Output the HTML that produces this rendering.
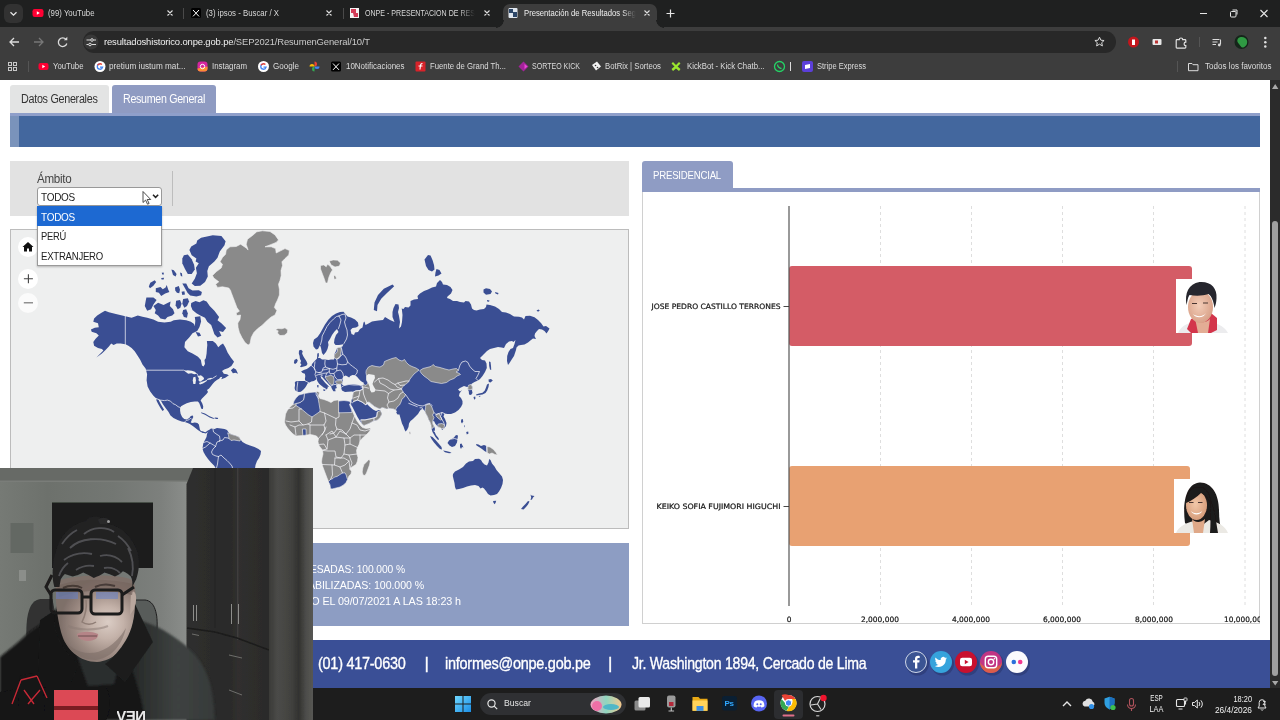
<!DOCTYPE html>
<html lang="es">
<head>
<meta charset="utf-8">
<title>Presentación de Resultados Segunda Elección Presidencial 2021</title>
<style>
*{box-sizing:border-box;margin:0;padding:0}
html,body{width:1280px;height:720px;overflow:hidden;background:#fff;font-family:"Liberation Sans",sans-serif;}
body{position:relative}
.a{position:absolute}
.t{position:absolute;white-space:nowrap;line-height:1}
/* chrome */
#tabstrip{left:0;top:0;width:1280px;height:27px;background:#1f2020}
#toolbar{left:0;top:26.5px;width:1280px;height:53.5px;background:#3d3d3d}
#omni{left:82.500px;top:31px;width:1033.500px;height:22px;border-radius:11px;background:#282828}
#acttab{left:503px;top:4px;width:154px;height:24px;background:#3d3d3d;border-radius:7px 7px 0 0}
.tabt{color:#d8d8d8;font-size:9px;top:9px}
.bm{color:#dcdcdc;font-size:8.5px;top:62px}
.x{color:#ddd;font-size:10px;top:8px}
/* page */
#tab1{left:10px;top:85px;width:98.5px;height:27.5px;background:#e3e4e4;border-radius:3px 3px 0 0}
#tab2{left:112px;top:85px;width:104px;height:28px;background:#8f9bc2;border-radius:3px 3px 0 0}
#bar1{left:10px;top:112.5px;width:1250px;height:3.5px;background:#8f9fca}
#bar2{left:10px;top:116px;width:1250px;height:31px;background:#43679e}
#bar3{left:10px;top:116px;width:9px;height:31px;background:#7a93bb}
#filt{left:10px;top:161px;width:618.5px;height:54.5px;background:#e2e2e2}
#mapbox{left:10px;top:229px;width:619px;height:300px;background:#eeefef;border:1px solid #bcbcbc}
#sel{left:37px;top:186.5px;width:125px;height:19.5px;background:#fff;border:1px solid #999;border-radius:3px}
#dd{left:37px;top:206px;width:125px;height:59.7px;background:#fff;border:1px solid #9a9a9a;box-shadow:0 1px 2px rgba(0,0,0,.25)}
#ddh{left:37px;top:206px;width:125px;height:20px;background:#1d69d2}
#info{left:10px;top:543px;width:618.5px;height:83px;background:#8d9dc3}
#ptab{left:642px;top:160.5px;width:91px;height:29.5px;background:#8f9cc4;border-radius:3px 3px 0 0}
#pline{left:642px;top:188px;width:618px;height:4px;background:#8f9cc4}
#chart{left:642px;top:190px;width:618px;height:434px;background:#fff;border:1px solid #d0d0d0;border-top:none}
#footer{left:0;top:640px;width:1270.5px;height:48px;background:#3a4f96}
#task{left:0;top:688px;width:1280px;height:32px;background:#1d1d1d}
#sbar{left:1270.3px;top:80px;width:9.7px;height:608px;background:#2b2b2b}
#sthumb{left:1272px;top:220.5px;width:6.2px;height:455px;background:#9f9f9f;border-radius:3.1px}
.ft{color:#fff;font-size:17px;top:655px;letter-spacing:-0.3px;-webkit-text-stroke:.35px #fff}
.cl{font-family:"DejaVu Sans","Liberation Sans",sans-serif;font-size:7.4px;color:#111;-webkit-text-stroke:.22px #222;margin-top:.6px}
</style>
</head>
<body>
<!-- browser chrome -->
<div class="a" id="tabstrip"></div>
<div class="a" id="toolbar"></div>
<div class="a" id="acttab"></div>
<div class="a" style="left:496px;top:20px;width:8px;height:8px;background:radial-gradient(circle at 0 0,#1f2020 7.5px,#3d3d3d 8px)"></div>
<div class="a" style="left:656px;top:20px;width:8px;height:8px;background:radial-gradient(circle at 100% 0,#1f2020 7.5px,#3d3d3d 8px)"></div>
<div class="a" style="left:4px;top:4px;width:19px;height:19px;border-radius:6px;background:#323232"></div>
<svg class="a" style="left:0;top:0" width="1280" height="80" viewBox="0 0 1280 80" fill="none">
 <path d="M10.5 12.2l3 3 3-3" stroke="#e6e6e6" stroke-width="1.3"/>
 <!-- yt tab icon -->
 <rect x="32.5" y="9" width="11" height="8" rx="2.2" fill="#f03"/><path d="M36.8 11.2v3.6l3-1.8z" fill="#fff"/>
 <!-- close x's -->
 <g stroke="#dedede" stroke-width="1.1"><path d="M167.5 10.5l5 5m0-5l-5 5M326.5 10.5l5 5m0-5l-5 5M484.5 10.5l5 5m0-5l-5 5M644.5 10.5l5 5m0-5l-5 5"/></g>
 <path d="M183.5 8v11M343.5 8v11" stroke="#4a4a4a" stroke-width="1"/>
 <!-- X icon -->
 <rect x="191" y="8" width="10" height="10" rx="1.5" fill="#000"/><path d="M193 10l6 6.4M199 10l-6 6.4" stroke="#fff" stroke-width="1"/>
 <!-- onpe icon -->
 <rect x="350" y="8" width="9" height="10" fill="#f4f4f4"/><path d="M351 9h5v4h-5zM353 13h5v4h-4z" fill="#d23c57"/>
 <!-- active icon -->
 <rect x="508.500" y="8" width="9" height="10" rx="1" fill="#dfe6ee"/><path d="M509 9h4v4h-4zM513 12h4v5h-4z" fill="#2c4668"/>
 <path d="M670.500 9.500v8M666.500 13.500h8" stroke="#e6e6e6" stroke-width="1.2"/>
 <!-- window controls -->
 <path d="M1200 13.500h7" stroke="#e6e6e6" stroke-width="1"/>
 <rect x="1230.500" y="11.500" width="5.500" height="5.500" rx="1" stroke="#e6e6e6" stroke-width="1"/><path d="M1232.500 10h4.500v4.500" stroke="#e6e6e6" stroke-width="1"/>
 <path d="M1260.500 10l7 7m0-7l-7 7" stroke="#e6e6e6" stroke-width="1.1"/>
 <!-- nav -->
 <path d="M19 42h-9m4-4l-4 4 4 4" stroke="#dcdcdc" stroke-width="1.3"/>
 <path d="M34 42h9m-4-4l4 4-4 4" stroke="#777" stroke-width="1.3"/>
 <path d="M66 39.500a4.300 4.300 0 1 0 .8 4" stroke="#dcdcdc" stroke-width="1.3"/><path d="M67.300 36.800v3.400h-3.400z" fill="#dcdcdc"/>
</svg>
<div class="a" id="omni"></div>
<svg class="a" style="left:0;top:0" width="1280" height="80" viewBox="0 0 1280 80" fill="none">
 <circle cx="91" cy="42" r="7.500" fill="#383838"/>
 <path d="M86.500 40h4m3 0h2.500M86.500 44.500h2m3 0h4.500" stroke="#dcdcdc" stroke-width="1.100"/><circle cx="92" cy="40" r="1.300" stroke="#dcdcdc" stroke-width="1"/><circle cx="90" cy="44.500" r="1.300" stroke="#dcdcdc" stroke-width="1"/>
 <path d="M1099.500 37.200l1.400 3 3.200.3-2.400 2.200.7 3.200-2.900-1.700-2.900 1.700.7-3.200-2.400-2.200 3.200-.3z" stroke="#dcdcdc" stroke-width="1"/>
 <circle cx="1133.500" cy="42" r="5.500" fill="#c4161c"/><path d="M1132 39.500h3v5.500h-3z" fill="#fff"/>
 <rect x="1152.500" y="39" width="9" height="6" rx="1" fill="#e8e8e8"/><rect x="1155" y="40.500" width="3" height="3" fill="#b33"/>
 <path d="M1177 39.700h2.300a1.700 1.700 0 1 1 3.400 0h2.300q.8 0 .8.800v1.700a1.700 1.700 0 1 0 0 3.400v1.700q0 .8-.8.800h-8q-.8 0-.8-.800v-6.800q0-.8.800-.8z" stroke="#e2e2e2" stroke-width="1.200"/>
 <path d="M1199.500 37v10" stroke="#555" stroke-width="1"/>
 <path d="M1212.500 39.500h7M1212.500 42h5M1212.500 44.500h3.500" stroke="#dcdcdc" stroke-width="1.100"/><path d="M1220.500 39.500v5" stroke="#dcdcdc" stroke-width="1.100"/><circle cx="1219.300" cy="45" r="1.400" fill="#dcdcdc"/>
 <circle cx="1241.500" cy="42" r="7" fill="#15251a"/><path d="M1238 38.500c3-2.500 8-1.500 9 2 .8 3-1 6.500-4 7-2 .3-2.500-2-4-3.500s-2.500-3.500-1-5.500z" fill="#2f9a43"/>
 <circle cx="1265.300" cy="38" r="1.250" fill="#e2e2e2"/><circle cx="1265.300" cy="42.300" r="1.250" fill="#e2e2e2"/><circle cx="1265.300" cy="46.600" r="1.250" fill="#e2e2e2"/>
 <!-- bookmarks icons -->
 <g stroke="#c8c8c8" stroke-width="1"><rect x="8.500" y="62.500" width="3" height="3"/><rect x="13.500" y="62.500" width="3" height="3"/><rect x="8.500" y="67.500" width="3" height="3"/><rect x="13.500" y="67.500" width="3" height="3"/></g>
 <path d="M28.500 61v11M1177.500 61v11" stroke="#555" stroke-width="1"/>
 <rect x="38.500" y="63" width="10" height="7" rx="2" fill="#f03"/><path d="M42.300 64.800v3.400l2.900-1.700z" fill="#fff"/>
 <circle cx="100" cy="66.500" r="5.500" fill="#fff"/><path d="M100 63.800a2.700 2.700 0 1 0 2.600 3.400h-2.600" stroke="#4285f4" stroke-width="1.300"/><path d="M97.600 65.300a2.700 2.700 0 0 1 4.300-.8" stroke="#ea4335" stroke-width="1.300"/>
 <rect x="197.500" y="61.500" width="10" height="10" rx="3" fill="#d6249f"/><path d="M197.500 68.500v0a3 3 0 0 0 3 3h4a3 3 0 0 0 3-3v-2z" fill="#fd8d32"/><circle cx="202.500" cy="66.500" r="2.200" stroke="#fff" stroke-width="1"/>
 <circle cx="263.500" cy="66.500" r="5.500" fill="#fff"/><path d="M263.500 63.800a2.700 2.700 0 1 0 2.600 3.400h-2.600" stroke="#4285f4" stroke-width="1.300"/><path d="M261.100 65.300a2.700 2.700 0 0 1 4.300-.8" stroke="#ea4335" stroke-width="1.300"/>
 <path d="M314.500 61.500a2.500 2.500 0 0 1 0 5z" fill="#ea4335"/><path d="M319.500 66.500a2.500 2.500 0 0 1-5 0z" fill="#4285f4"/><path d="M314.500 71.500a2.500 2.500 0 0 1 0-5z" fill="#34a853"/><path d="M309.500 66.500a2.500 2.500 0 0 1 5 0z" fill="#fbbc04"/>
 <rect x="331" y="61.500" width="10" height="10" rx="1.500" fill="#000"/><path d="M333 63.500l6 6.400M339 63.500l-6 6.400" stroke="#fff" stroke-width="1"/>
 <rect x="415.500" y="61.500" width="10" height="10" rx="1" fill="#d8232a"/><path d="M422.500 63.500c-2 0-2 1-2.500 6M418.500 66h4" stroke="#fff" stroke-width="1.100"/>
 <path d="M523.500 61.500l5 5-5 5-5-5z" fill="#a3239a"/><path d="M524.500 64l3 2.500-3 2.500z" fill="#e94bd6"/>
 <path d="M592 65l5-3.500 4 5-5 4z" fill="#f2f2f2"/><circle cx="595.500" cy="65.500" r=".8" fill="#333"/><circle cx="597.500" cy="67.500" r=".8" fill="#333"/>
 <path d="M673 62l3 3 3-3 1.500 1.500-3 3 3 2.500-1.500 2-3-2.500-3 2.500-1.500-2 3-2.500-3-3z" fill="#9ae62e"/>
 <circle cx="779.500" cy="66.500" r="5" stroke="#25d366" stroke-width="1.300"/><path d="M777.500 64.500c0 2 2 4 4 4" stroke="#25d366" stroke-width="1.300"/>
 <path d="M790.500 62v9" stroke="#dcdcdc" stroke-width="1"/>
 <rect x="802" y="61" width="11" height="11" rx="2" fill="#5b3fd9"/><path d="M805 65l5-1v4l-5 1z" fill="#fff"/>
 <path d="M1188.500 63.500h3.500l1 1.200h5v6h-9.500z" stroke="#dcdcdc" stroke-width="1"/>
</svg>
<div class="t tabt" style="transform:scaleX(0.8656);transform-origin:0 0;left:47.500px">(99) YouTube</div>
<div class="t tabt" style="transform:scaleX(0.8687);transform-origin:0 0;left:206px">(3) ipsos - Buscar / X</div>
<div class="t tabt" style="transform:scaleX(0.7865);transform-origin:0 0;left:365px;-webkit-mask-image:linear-gradient(90deg,#000 85%,transparent)">ONPE - PRESENTACIÓN DE RES</div>
<div class="t tabt" style="transform:scaleX(0.8544);transform-origin:0 0;left:523.500px;color:#f0f0f0;-webkit-mask-image:linear-gradient(90deg,#000 88%,transparent)">Presentación de Resultados Seg</div>
<div class="t" style="transform:scaleX(0.9638);transform-origin:0 0;left:104px;top:37px;font-size:9.800px;color:#f0f0f0;letter-spacing:-.15px">resultadoshistorico.onpe.gob.pe<span style="color:#c9c9c9">/SEP2021/ResumenGeneral/10/T</span></div>
<div class="t bm" style="transform:scaleX(0.9130);transform-origin:0 0;left:53px">YouTube</div>
<div class="t bm" style="transform:scaleX(0.9640);transform-origin:0 0;left:109px">pretium iustum mat...</div>
<div class="t bm" style="transform:scaleX(0.9260);transform-origin:0 0;left:212px">Instagram</div>
<div class="t bm" style="transform:scaleX(0.9481);transform-origin:0 0;left:272.500px">Google</div>
<div class="t bm" style="transform:scaleX(0.9379);transform-origin:0 0;left:345.500px">10Notificaciones</div>
<div class="t bm" style="transform:scaleX(0.9103);transform-origin:0 0;left:429.500px">Fuente de Grand Th...</div>
<div class="t bm" style="transform:scaleX(0.8283);transform-origin:0 0;left:532px">SORTEO KICK</div>
<div class="t bm" style="transform:scaleX(0.9141);transform-origin:0 0;left:605px">BotRix | Sorteos</div>
<div class="t bm" style="transform:scaleX(0.9165);transform-origin:0 0;left:686.500px">KickBot - Kick Chatb...</div>
<div class="t bm" style="transform:scaleX(0.8864);transform-origin:0 0;left:816.500px">Stripe Express</div>
<div class="t bm" style="transform:scaleX(0.9445);transform-origin:0 0;left:1204.500px">Todos los favoritos</div>
<!-- page -->
<div class="a" id="tab1"></div><div class="a" id="tab2"></div>
<div class="a" id="bar1"></div><div class="a" id="bar2"></div><div class="a" id="bar3"></div>
<div class="t" style="transform:scaleX(0.8790);transform-origin:0 0;left:21px;top:92.500px;font-size:12.300px;color:#333;letter-spacing:-.35px">Datos Generales</div>
<div class="t" style="transform:scaleX(0.8673);transform-origin:0 0;left:122.500px;top:92.500px;font-size:12.300px;color:#fff;letter-spacing:-.35px">Resumen General</div>
<div class="a" id="filt"></div>
<div class="a" style="left:172px;top:171px;width:1px;height:35px;background:#bdbdbd"></div>
<div class="t" style="transform:scaleX(0.9456);transform-origin:0 0;left:37px;top:172.500px;font-size:12.300px;color:#444;letter-spacing:-.3px">Ámbito</div>
<div class="a" id="mapbox"></div>
<svg class="a" style="left:11px;top:230px" width="617" height="298" viewBox="11 230 617 298">
<g stroke-linejoin="round" stroke-linecap="round">
<path d="M201.1 237.7L212.8 235.3L221.4 236.1L225.6 241.3L224.5 245.2L219.8 251.4L217.5 257.7L214.4 261.6L208.9 266.3L207.3 271.0L207.8 276.4L205.0 281.9L200.3 285.8L194.8 286.1L191.7 283.5L194.8 278.8L196.9 273.3L195.9 267.8L198.8 263.2L195.6 261.6L196.4 258.5L191.7 255.3L189.4 249.9L191.2 246.4L196.4 243.6L197.2 240.5z" fill="#3a4e93"/>
<path d="M183.9 255.3L187.8 254.6L191.7 259.2L194.1 264.7L194.8 269.4L191.7 274.1L187.8 274.1L185.0 268.9L182.3 263.2L182.3 258.5z" fill="#3a4e93"/>
<path d="M171.4 269.4L173.8 270.2L176.6 274.1L175.6 276.4L173.0 274.9z" fill="#3a4e93"/>
<path d="M180.0 272.5L181.9 273.3L182.3 276.4L180.8 276.1z" fill="#3a4e93"/>
<path d="M161.2 278.0L164.1 277.7L163.6 279.6L161.6 279.6z" fill="#3a4e93"/>
<path d="M161.7 272.8L163.6 272.5L163.9 274.4L162.3 274.4z" fill="#3a4e93"/>
<path d="M182.3 283.5L186.2 283.5L188.6 288.2L192.5 290.5L198.8 290.2L201.9 292.1L201.1 295.2L196.4 296.4L190.2 295.5L187.5 292.8L185.0 288.2z" fill="#3a4e93"/>
<path d="M150.3 282.7L154.7 280.3L156.2 281.9L153.4 285.8L150.0 288.2L148.8 286.6z" fill="#3a4e93"/>
<path d="M155.8 288.2L160.5 287.1L162.8 289.2L165.6 287.4L166.7 285.0L168.3 289.7L169.4 292.1L165.2 293.6L161.2 296.0L158.9 292.8L155.8 292.1z" fill="#3a4e93"/>
<path d="M175.0 287.4L178.8 286.1L180.0 289.7L179.2 293.3L176.9 292.8L175.3 290.5z" fill="#3a4e93"/>
<path d="M181.6 291.8L184.4 291.3L185.0 294.4L182.3 294.9z" fill="#3a4e93"/>
<path d="M146.4 297.5L153.4 297.5L156.6 299.9L153.4 304.6L151.1 309.2L147.2 310.8L144.8 306.1L145.6 301.4z" fill="#3a4e93"/>
<path d="M153.4 306.1L158.1 302.7L163.6 304.9L167.5 303.0L170.6 301.4L169.8 306.1L173.0 309.2L174.5 313.2L172.2 315.5L167.5 317.1L165.2 319.4L160.5 318.6L158.1 315.5L154.7 313.2L155.8 310.0z" fill="#3a4e93"/>
<path d="M176.1 300.7L180.0 299.9L181.6 303.8L180.3 307.7L177.7 309.2L175.6 305.3z" fill="#3a4e93"/>
<path d="M183.1 299.1L187.8 298.3L189.1 301.4L187.0 306.1L184.4 307.7L182.3 303.8z" fill="#3a4e93"/>
<path d="M183.1 310.0L186.2 309.2L187.8 313.2L187.0 317.8L183.9 317.1L182.3 313.2z" fill="#3a4e93"/>
<path d="M191.2 303.0L195.6 301.1L199.5 302.2L203.4 300.2L206.6 301.4L209.7 306.1L214.4 310.8L219.1 317.1L217.5 320.2L221.4 323.3L226.1 328.0L223.0 331.9L219.1 331.1L221.4 335.8L217.5 337.4L214.4 334.2L212.8 329.6L211.2 324.9L207.3 321.8L205.0 317.8L200.3 315.5L196.4 313.2L192.5 310.0L190.9 306.1z" fill="#3a4e93"/>
<path d="M195.6 331.9L199.5 332.7L201.1 335.8L198.0 336.6z" fill="#3a4e93"/>
<path d="M97.2 315.5L101.1 313.1L105.0 310.8L108.9 312.3L115.9 313.9L125.3 316.2L131.6 317.8L137.8 315.5L142.5 316.7L147.2 317.8L153.4 319.4L158.1 321.7L164.4 322.5L170.6 321.7L173.8 320.2L180.0 319.4L186.2 320.2L190.9 321.7L194.1 324.1L194.8 326.2L195.3 320.8L194.8 316.9L200.3 316.2L201.1 321.6L199.5 327.0L197.2 330.9L192.5 333.3L189.4 337.2L185.0 341.9L184.4 347.3L187.8 351.2L192.5 353.6L198.0 356.7L200.9 360.0L201.4 363.0L202.0 365.6L203.5 366.6L205.0 364.1L204.5 360.0L205.8 358.3L206.6 353.6L206.9 348.9L207.3 345.0L206.9 341.1L212.8 341.1L215.9 343.4L218.3 347.3L220.6 345.0L223.0 343.4L225.3 347.3L227.7 352.8L230.8 357.5L233.9 361.4L233.9 362.0L231.4 366.1L228.4 368.1L224.3 369.6L220.2 372.2L217.2 375.2L215.2 376.3L217.2 373.7L220.2 370.7L222.3 371.2L223.8 373.7L226.8 374.2L228.9 375.2L225.3 377.8L221.3 379.3L222.3 376.8L220.2 377.3L219.2 378.8L217.2 379.8L214.6 381.8L212.6 383.9L211.1 385.9L209.1 388.4L207.0 390.0L208.0 392.0L206.5 394.0L204.5 396.1L202.0 398.6L200.6 400.4L202.2 403.2L203.2 406.2L203.0 409.0L201.3 408.8L200.3 405.7L199.2 402.9L197.9 401.6L194.8 401.6L190.8 402.1L186.7 403.2L183.7 404.7L181.1 406.2L180.1 407.7L180.1 410.8L180.6 413.8L182.1 416.9L184.2 418.9L186.7 419.4L189.3 417.9L190.8 415.9L192.8 415.4L193.3 416.9L192.3 418.9L191.3 420.9L190.8 422.5L192.3 423.0L194.8 422.5L197.4 423.0L198.9 424.5L199.4 427.0L199.9 429.6L200.9 431.1L203.0 431.6L205.0 433.0L203.0 433.0L200.9 432.1L197.9 430.1L195.4 428.0L192.8 426.0L189.8 424.0L187.7 423.0L184.7 422.0L181.6 421.4L177.6 419.9L173.5 417.9L170.5 415.4L168.4 411.8L165.4 407.7L162.9 404.2L160.8 400.6L156.3 398.6L153.2 395.5L150.2 391.5L147.6 386.4L146.6 380.3L147.1 374.2L146.1 370.2L145.6 368.4L142.5 364.5L140.2 359.8L137.8 355.9L134.7 351.2L131.6 348.1L128.4 345.8L125.3 344.2L120.6 343.4L116.7 343.4L113.6 345.0L111.2 343.4L108.9 346.6L105.8 349.7L101.9 353.6L96.4 357.5L103.4 350.5L101.9 348.9L98.0 348.1L94.1 345.8L93.3 341.9L95.6 338.8L98.8 335.6L96.4 333.3L91.7 331.7L90.9 329.4L94.8 327.8L98.8 327.2L98.0 323.3L93.3 321.7L94.1 318.6z" fill="#3a4e93"/>
<path d="M156.3 398.6L158.3 399.2L160.0 402.7L162.0 406.2L164.1 409.8L162.5 411.0L160.3 407.7L158.3 404.3L156.5 400.8z" fill="#3a4e93"/>
<path d="M230.9 370.2L233.4 368.1L236.0 369.6L238.0 373.7L235.5 372.7L232.9 373.2z" fill="#3a4e93"/>
<path d="M184.7 370.7L187.7 370.2L191.8 370.7L194.8 371.7L196.9 373.7L194.3 374.2L191.3 373.2L188.2 373.7L186.2 372.2z" fill="#eeefef"/>
<path d="M193.3 377.3L195.4 376.8L195.9 380.3L195.4 383.9L193.3 383.9L192.8 380.3z" fill="#eeefef"/>
<path d="M197.4 376.3L200.9 375.2L203.5 377.3L204.0 379.3L202.0 380.3L199.9 381.8L198.4 380.3L198.9 378.3z" fill="#eeefef"/>
<path d="M198.9 382.9L202.0 381.8L205.0 380.8L207.0 379.8L206.5 381.3L203.0 383.4L199.9 384.4z" fill="#eeefef"/>
<path d="M207.5 378.8L211.1 377.8L212.6 378.3L210.6 379.5L208.0 379.8z" fill="#eeefef"/>
<path d="M200.9 412.3L205.0 413.6L209.1 416.1L213.1 417.7L215.2 418.4L213.1 418.7L209.6 417.4L205.0 414.8L201.4 413.2z" fill="#3a4e93"/>
<path d="M214.6 417.4L217.7 417.7L218.2 418.9L215.7 419.1z" fill="#3a4e93"/>
<path d="M125.3 316.2L125.3 344.2L128.4 347.3L131.6 349.7L134.7 353.6L137.5 357.5" fill="none" stroke="#f2f2f6" stroke-width=".75"/>
<path d="M146.1 370.2L183.7 370.2L186.2 371.4" fill="none" stroke="#f2f2f6" stroke-width=".75"/>
<path d="M196.9 373.7L198.4 376.3" fill="none" stroke="#f2f2f6" stroke-width=".75"/>
<path d="M203.5 378.3L200.9 381.5" fill="none" stroke="#f2f2f6" stroke-width=".75"/>
<path d="M206.8 380.3L207.8 379.3" fill="none" stroke="#f2f2f6" stroke-width=".75"/>
<path d="M212.6 378.3L216.2 376.0" fill="none" stroke="#f2f2f6" stroke-width=".75"/>
<path d="M156.3 398.6L160.3 400.1L164.4 400.6L167.4 400.1L170.5 401.1L173.0 403.7L175.5 404.7L178.1 406.7L180.1 407.5" fill="none" stroke="#f2f2f6" stroke-width=".75"/>
<path d="M184.7 422.0L186.2 420.4L188.8 419.9L190.3 418.4L191.3 418.9" fill="none" stroke="#f2f2f6" stroke-width=".75"/>
<path d="M256.9 231.8L262.5 230.8L270.0 231.5L275.0 234.9L278.5 239.9L276.2 242.4L270.0 244.9L265.0 246.8L271.2 246.8L275.6 248.6L276.2 253.0L280.0 251.1L285.0 248.6L289.4 250.5L288.8 254.9L285.0 258.6L281.9 261.8L282.5 265.5L281.0 270.5L281.2 275.5L280.0 280.5L278.5 284.2L279.4 289.2L279.4 295.0L277.5 300.0L275.6 303.8L274.4 307.5L276.9 310.6L275.0 315.0L271.2 316.9L266.2 321.2L262.5 325.0L257.5 328.8L253.8 332.5L251.2 337.5L250.0 343.8L248.1 345.0L245.0 342.5L241.9 337.5L239.4 332.5L238.1 327.5L237.8 323.1L240.0 319.4L240.6 315.0L236.9 315.6L236.2 313.1L239.4 311.2L236.9 307.5L235.0 302.5L233.1 297.5L231.2 292.5L230.6 290.5L228.8 288.0L222.5 286.8L217.5 287.4L215.6 284.2L218.8 281.8L213.8 278.0L212.5 275.5L216.2 271.8L221.2 268.0L222.5 264.2L220.0 261.8L222.5 257.4L225.6 254.2L226.2 249.9L230.0 246.8L236.2 246.5L240.6 244.2L246.2 248.0L248.1 249.9L246.2 244.2L247.5 239.2L252.5 235.5z" fill="#8a8a8a" stroke="#f2f2f4" stroke-width=".6"/>
<path d="M275.6 329.4L278.1 328.5L281.9 328.8L285.0 327.8L287.8 330.0L287.2 333.1L284.4 335.2L280.0 335.6L277.5 333.1L278.1 331.2z" fill="#8a8a8a" stroke="#f2f2f4" stroke-width=".6"/>
<path d="M320.6 265.5L323.8 264.9L326.2 266.8L327.5 264.2L330.0 266.1L332.5 269.9L330.6 273.0L328.8 277.4L327.5 283.0L325.6 283.0L324.4 279.2L322.5 274.2L320.6 269.2z" fill="#8a8a8a" stroke="#f2f2f4" stroke-width=".6"/>
<path d="M329.4 261.1L333.1 259.9L337.5 260.2L340.6 263.0L339.4 266.1L335.0 267.0L331.2 264.9z" fill="#8a8a8a" stroke="#f2f2f4" stroke-width=".6"/>
<path d="M333.8 275.5L335.6 276.1L336.5 278.6L334.4 279.5z" fill="#8a8a8a" stroke="#f2f2f4" stroke-width=".6"/>
<path d="M316.0 349.5L313.5 346.5L313.0 343.0L314.0 339.5L317.5 337.0L320.0 333.5L322.5 329.0L325.0 324.5L328.5 319.5L332.0 316.0L336.0 313.5L340.0 312.0L343.5 311.8L345.0 313.5L347.5 316.5L351.0 317.5L355.0 319.5L358.0 322.5L358.5 326.0L356.0 327.5L352.5 328.0L350.5 330.0L351.5 334.0L354.0 335.0L355.0 332.5L358.0 332.0L360.0 329.0L362.5 327.5L363.5 322.5L364.5 321.5L365.5 325.0L368.5 323.5L372.0 321.5L375.0 321.0L378.5 320.5L383.0 320.0L385.0 317.0L387.5 318.5L390.0 320.0L394.5 322.0L392.5 317.0L392.5 312.0L393.5 308.0L395.5 304.0L398.5 304.5L399.0 308.0L398.0 312.0L399.0 316.0L400.0 322.0L399.0 328.5L401.0 326.5L402.0 322.0L402.5 315.0L401.8 309.0L401.5 308.5L403.5 309.0L405.0 307.0L408.5 307.5L410.5 305.5L410.5 301.0L414.0 299.5L418.0 299.0L417.5 296.0L420.0 293.5L424.0 291.0L428.0 289.5L432.0 287.5L436.0 286.5L437.0 283.0L440.0 280.0L442.0 282.0L443.0 284.5L447.0 285.0L450.5 287.0L452.5 290.0L451.0 293.5L447.5 296.5L447.0 298.0L450.0 299.0L453.0 301.0L457.0 301.0L460.0 302.0L464.0 302.5L465.5 301.0L469.0 301.5L471.0 304.5L472.0 308.5L474.0 310.0L476.5 310.5L480.0 309.5L484.0 309.0L486.0 307.0L486.5 304.5L490.0 305.0L495.0 306.5L499.0 309.0L502.0 312.0L506.0 312.5L510.0 314.0L511.5 315.0L514.0 316.5L519.0 316.8L522.0 317.5L524.0 319.5L525.5 316.0L530.0 315.8L534.5 317.2L538.0 320.0L541.0 323.0L543.5 326.5L546.0 326.0L549.5 328.5L548.5 330.5L546.5 333.5L544.5 331.0L542.0 329.5L539.0 329.0L537.0 331.0L535.0 333.5L534.5 336.0L536.0 339.0L533.0 338.5L531.0 340.0L528.0 342.5L524.5 344.5L521.0 345.0L518.5 345.5L516.5 347.5L516.0 350.0L515.0 353.0L514.0 356.0L512.0 359.0L509.5 363.0L508.0 365.0L507.0 361.0L507.2 356.0L508.5 352.0L510.5 349.0L513.0 348.0L514.5 344.0L515.5 340.0L513.5 342.0L512.0 341.0L509.0 341.5L506.0 344.0L504.0 348.0L501.5 347.5L498.0 347.0L494.0 348.0L490.0 349.0L487.0 351.0L484.0 354.0L481.0 357.0L480.0 358.0L482.0 360.0L485.0 360.5L486.5 363.5L486.8 368.0L485.0 372.0L482.5 376.0L480.0 379.0L478.0 380.5L474.5 382.0L472.0 383.5L471.0 384.5L472.5 387.0L472.0 390.5L472.5 393.0L471.0 395.0L469.0 394.5L468.8 391.5L467.8 389.0L468.0 387.0L467.0 387.0L464.0 386.0L462.0 387.0L460.0 388.0L458.0 389.5L460.0 391.5L462.0 390.0L459.5 393.5L459.0 396.0L461.0 398.0L462.5 401.0L462.5 404.0L461.0 407.0L458.5 410.0L455.0 412.5L451.0 414.0L448.0 414.0L447.5 414.0L444.5 413.5L443.5 416.5L445.0 419.0L446.5 423.0L446.0 426.0L444.0 428.5L442.0 430.0L441.5 428.5L440.0 427.5L438.0 427.0L436.5 425.0L435.5 424.0L434.0 421.0L432.5 421.5L432.8 424.0L434.0 426.0L435.0 429.0L434.5 431.5L436.0 435.0L438.5 438.0L439.0 440.0L437.5 439.5L435.5 437.0L434.0 434.5L432.5 432.0L431.5 428.5L431.0 425.0L430.0 422.0L428.5 419.5L427.5 416.5L426.0 414.0L425.0 411.5L424.0 410.0L422.0 409.0L420.5 410.0L419.5 411.5L418.0 414.0L415.5 416.5L413.0 419.0L410.5 421.0L409.0 423.5L408.5 427.0L407.0 430.0L405.5 431.5L404.5 429.5L403.5 426.5L402.0 423.5L401.0 420.0L400.0 416.5L399.5 414.5L397.5 414.5L396.2 412.5L397.0 411.0L395.5 410.0L393.5 409.0L390.0 408.5L386.5 409.0L384.0 408.0L382.0 407.5L380.0 409.0L377.5 408.0L374.5 406.5L371.5 404.0L369.0 402.0L367.0 402.5L367.0 404.0L370.0 407.0L373.0 409.5L376.0 411.0L379.0 410.0L380.5 410.5L382.0 414.0L380.0 417.5L377.5 420.0L374.5 421.0L373.5 421.0L369.0 423.5L364.0 425.5L362.0 424.0L360.0 421.0L357.5 417.0L355.0 412.0L352.5 407.0L350.5 404.0L351.5 402.5L352.0 400.0L352.5 397.0L353.0 394.0L353.5 392.0L352.0 391.5L348.0 391.8L345.0 392.0L342.0 390.5L341.0 387.5L340.9 385.0L339.0 384.6L337.1 384.4L336.0 385.8L336.9 388.0L335.1 388.8L335.6 391.2L333.4 391.2L331.9 388.8L330.8 386.1L328.9 384.3L326.3 381.6L324.0 379.0L322.1 376.8L320.9 376.2L321.0 377.9L322.9 380.1L325.1 382.8L327.4 385.0L329.1 386.7L327.4 386.7L327.9 388.0L326.3 389.5L325.1 388.0L324.0 387.8L321.8 385.9L319.1 383.7L317.3 381.0L316.5 378.3L315.8 379.8L313.9 380.9L311.3 381.6L309.0 382.8L307.5 383.5L306.4 385.8L304.9 388.0L303.0 389.9L300.8 391.8L298.9 392.1L297.0 391.4L295.1 390.3L294.6 388.0L295.1 385.0L294.8 382.4L295.9 381.3L299.3 380.9L302.6 380.9L305.3 380.9L304.9 379.0L305.3 376.0L304.9 373.8L302.6 373.0L301.1 371.5L303.8 370.0L306.8 368.9L309.0 367.4L311.3 365.5L312.4 363.6L313.9 361.8L316.9 358.8L317.1 356.9L317.3 353.5L318.8 352.9L318.9 356.1L318.0 358.0L320.0 358.0L322.0 359.5L325.0 359.5L328.5 360.0L331.0 359.5L334.0 359.5L334.5 358.0L334.0 355.0L335.0 353.0L336.5 350.0L337.0 348.0L339.5 347.5L342.5 346.5L343.5 344.0L342.0 344.5L339.0 345.0L335.5 345.0L334.0 343.0L334.5 339.0L336.0 335.0L338.5 332.0L337.0 329.0L334.5 331.5L332.0 335.0L330.0 339.0L328.0 342.0L328.5 345.0L327.5 349.0L326.0 352.0L323.5 355.0L322.0 353.0L321.5 350.5L321.0 348.0L320.0 345.0L318.0 349.0z" fill="#3a4e93"/>
<path d="M366.5 370.0L368.5 367.0L372.0 365.5L376.0 366.5L380.0 367.0L383.5 365.0L384.5 361.5L388.0 360.0L392.0 358.5L396.0 357.5L399.0 360.0L402.0 361.0L404.5 359.5L406.5 362.5L409.0 365.0L412.0 366.5L416.0 368.0L419.0 370.0L416.5 372.0L414.0 374.0L412.0 376.5L410.0 379.0L409.0 381.0L407.5 383.0L404.5 385.0L402.5 387.0L401.5 389.0L403.0 392.0L405.5 394.5L404.5 397.0L402.0 399.0L401.0 402.0L399.5 405.0L397.0 407.0L395.5 410.0L395.5 410.0L393.5 409.0L390.0 408.5L386.5 409.0L384.0 408.0L382.0 407.5L380.0 409.0L377.5 408.0L374.5 406.5L371.5 404.0L369.0 402.0L367.0 402.5L366.0 405.0L362.0 402.0L357.5 400.0L353.5 401.5L351.5 402.5L352.0 400.0L352.5 397.0L353.0 394.0L353.5 392.0L356.0 390.8L360.0 390.5L363.0 389.0L362.5 386.0L363.4 384.3L363.0 382.4L363.0 384.0L366.0 385.5L368.0 383.0L366.5 380.0L366.5 375.5L366.0 373.0z" fill="#8a8a8a" stroke="#f2f2f4" stroke-width=".6"/>
<path d="M361.0 420.0L365.0 420.0L370.0 419.0L374.0 418.0L373.5 421.0L369.0 423.5L364.0 425.5L362.0 424.0z" fill="#8a8a8a" stroke="#f2f2f4" stroke-width=".6"/>
<path d="M377.5 412.0L380.5 410.5L382.0 414.0L380.0 417.5L377.5 420.0L374.5 421.0L374.0 418.0L376.5 417.0z" fill="#8a8a8a" stroke="#f2f2f4" stroke-width=".6"/>
<path d="M420.0 370.5L423.0 368.5L427.0 367.5L431.0 366.5L433.0 364.5L435.5 366.5L440.0 367.5L445.0 369.0L449.0 370.0L453.0 369.0L456.5 368.5L458.5 370.5L456.0 372.0L459.5 373.5L460.5 374.5L457.0 376.0L454.0 378.5L450.0 380.0L446.5 382.5L441.5 383.5L436.0 382.5L431.0 381.5L427.5 378.5L424.0 376.0L421.5 373.5z" fill="#8a8a8a" stroke="#f2f2f4" stroke-width=".6"/>
<path d="M469.0 385.0L471.0 384.5L472.5 387.0L472.0 389.5L469.0 389.8L467.8 389.0L468.0 387.0z" fill="#8a8a8a" stroke="#f2f2f4" stroke-width=".6"/>
<path d="M426.0 405.0L429.0 404.0L431.5 406.0L432.5 409.0L434.0 412.5L432.5 415.0L434.0 417.5L432.5 421.5L432.8 424.0L434.0 426.0L433.0 428.0L431.5 428.5L431.0 425.0L430.0 422.0L428.5 419.5L427.5 416.5L426.0 414.0L425.0 411.5L425.5 408.0z" fill="#8a8a8a" stroke="#f2f2f4" stroke-width=".6"/>
<path d="M436.0 414.5L439.0 413.5L440.5 416.5L442.0 419.5L440.5 420.0L438.0 418.0L436.5 416.5z" fill="#8a8a8a" stroke="#f2f2f4" stroke-width=".6"/>
<path d="M438.5 424.0L442.0 423.5L444.5 425.0L444.0 428.5L441.5 428.5L440.0 427.5L438.0 427.0z" fill="#8a8a8a" stroke="#f2f2f4" stroke-width=".6"/>
<path d="M409.2 431.5L410.5 432.0L410.8 434.0L409.5 434.2z" fill="#8a8a8a" stroke="#f2f2f4" stroke-width=".6"/>
<path d="M337.5 347.5L340.9 347.5L341.3 350.1L340.9 353.1L340.5 356.1L339.0 358.4L336.8 359.1L334.5 358.0L334.1 356.1L334.9 353.9L336.8 352.4L337.5 350.5z" fill="#8a8a8a" stroke="#f2f2f4" stroke-width=".6"/>
<path d="M336.0 380.9L342.0 380.5L342.4 382.8L340.9 384.3L337.5 384.3L336.0 382.8z" fill="#8a8a8a" stroke="#f2f2f4" stroke-width=".6"/>
<path d="M325.5 376.9L328.1 376.0L330.8 375.3L333.4 376.4L334.1 379.8L333.8 383.5L331.9 385.0L330.0 383.9L328.1 381.3L326.3 379.0z" fill="#8a8a8a" stroke="#f2f2f4" stroke-width=".6"/>
<path d="M342.4 385.0L342.0 383.9L342.4 382.8L342.8 380.5L342.4 378.3L343.5 376.4L345.8 375.6L348.0 376.8L349.1 377.5L350.3 376.0L352.5 374.9L355.1 375.3L357.0 376.8L358.9 379.0L360.8 380.9L363.0 382.4L363.4 384.3L362.3 385.4L358.9 385.0L355.5 384.6L352.5 384.3L349.5 384.3L346.5 385.0L344.3 385.4z" fill="#eeefef"/>
<path d="M366.5 375.5L368.5 374.0L371.5 374.5L374.5 375.0L375.0 378.0L373.5 381.0L372.5 384.0L374.0 387.0L375.5 389.5L374.5 392.0L371.5 392.5L370.0 390.0L369.5 386.5L368.0 383.0L366.5 380.0z" fill="#eeefef"/>
<path d="M299.0 350.5L301.1 349.8L302.7 351.3L302.1 353.5L303.2 355.9L304.7 358.6L306.5 361.2L307.5 364.0L306.3 365.8L303.8 366.6L301.0 367.3L300.0 366.4L301.4 364.8L300.3 362.9L301.1 361.0L299.9 358.8L299.6 356.1L298.8 353.5z" fill="#3a4e93"/>
<path d="M294.4 359.9L296.6 358.8L297.8 360.3L297.0 362.5L295.1 364.0L293.9 362.9z" fill="#3a4e93"/>
<path d="M323.0 389.5L325.5 389.5L325.0 391.0L323.2 390.5z" fill="#3a4e93"/>
<path d="M317.2 385.0L318.5 385.0L318.5 387.5L317.2 387.2z" fill="#3a4e93"/>
<path d="M392.5 284.5L394.2 286.2L387.5 292.5L381.2 298.8L377.5 305.0L377.0 311.2L373.8 310.0L374.5 302.5L378.0 295.0L383.8 288.8z" fill="#3a4e93"/>
<path d="M424.5 259.5L428.0 255.0L430.5 255.5L432.5 260.0L434.0 265.0L434.5 269.5L432.0 271.5L428.5 270.0L426.0 266.0z" fill="#3a4e93"/>
<path d="M436.5 269.0L439.5 270.0L441.5 273.5L438.5 275.5L435.0 276.5L435.5 272.5z" fill="#3a4e93"/>
<path d="M483.5 289.5L486.0 288.2L490.0 289.0L492.0 291.5L490.5 294.0L486.0 294.8L483.5 292.5z" fill="#3a4e93"/>
<path d="M495.0 292.0L498.5 293.0L498.0 294.5L495.5 293.5z" fill="#3a4e93"/>
<path d="M487.0 300.0L489.5 300.5L489.0 301.8L487.2 301.5z" fill="#3a4e93"/>
<path d="M536.5 310.5L538.5 309.5L539.8 310.5L538.0 311.8z" fill="#3a4e93"/>
<path d="M489.0 361.5L490.5 362.0L491.0 366.0L491.2 370.0L490.0 369.5L489.2 366.0z" fill="#3a4e93"/>
<path d="M488.5 379.5L491.0 379.0L492.8 380.5L490.5 382.5L488.8 382.0z" fill="#3a4e93"/>
<path d="M487.0 384.5L489.0 383.5L488.5 387.0L487.2 390.5L485.5 393.0L482.5 394.5L479.0 395.0L476.5 395.5L476.0 394.5L479.0 393.5L482.5 392.8L484.8 390.5L486.0 387.5z" fill="#3a4e93"/>
<path d="M473.5 397.0L475.2 396.5L475.5 398.5L474.2 399.8z" fill="#3a4e93"/>
<path d="M478.5 396.0L480.5 395.8L480.0 397.0z" fill="#3a4e93"/>
<path d="M430.0 436.0L432.5 437.0L435.5 440.0L439.0 444.0L441.5 447.0L442.0 449.5L440.0 449.0L437.0 446.0L434.0 442.5L431.5 439.0z" fill="#3a4e93"/>
<path d="M443.0 450.5L446.0 451.0L450.0 452.0L451.5 453.0L449.0 453.2L445.0 452.2z" fill="#3a4e93"/>
<path d="M449.0 440.5L451.5 439.0L454.0 437.5L456.0 435.0L458.0 435.5L457.5 439.0L457.0 442.5L455.0 446.0L452.0 447.0L449.5 445.5L447.5 443.0z" fill="#3a4e93"/>
<path d="M460.0 444.0L461.5 443.5L462.5 445.5L463.5 447.5L462.0 447.0L461.0 449.0L460.0 447.0z" fill="#3a4e93"/>
<path d="M461.2 419.5L462.8 419.0L463.2 421.5L462.0 423.5L461.0 422.0z" fill="#3a4e93"/>
<path d="M466.2 432.0L468.2 431.5L468.5 433.5L466.8 434.5z" fill="#3a4e93"/>
<path d="M464.0 425.0L465.0 426.0L464.5 427.5z" fill="#3a4e93"/>
<path d="M476.0 444.0L478.5 444.5L481.0 446.0L484.0 445.0L486.5 446.0L487.0 452.5L484.5 451.0L482.0 449.0L479.0 447.0L476.5 445.5z" fill="#3a4e93"/>
<path d="M487.0 446.5L490.0 447.0L493.5 449.5L496.0 452.5L497.5 455.0L495.0 454.5L492.0 453.0L489.5 454.0L487.2 453.0z" fill="#8a8a8a" stroke="#f2f2f4" stroke-width=".6"/>
<path d="M453.0 474.0L455.0 471.5L459.0 469.5L463.0 467.0L466.0 463.5L469.0 461.5L473.0 461.0L475.0 459.0L479.0 458.8L481.0 460.0L482.5 462.5L484.5 464.5L487.0 465.5L488.5 462.5L489.2 459.0L490.5 460.0L492.0 463.5L494.5 466.5L496.5 470.0L499.5 473.5L502.0 476.5L503.0 480.0L502.5 484.0L501.0 488.0L499.0 491.5L497.0 494.0L494.0 495.0L490.5 495.5L488.0 494.0L486.0 491.0L484.0 488.5L482.5 487.5L480.5 488.5L478.5 486.0L475.0 485.0L471.0 485.5L467.0 486.5L463.0 488.0L459.0 489.0L456.0 489.5L455.0 487.0L454.5 483.0L453.5 479.0L452.8 476.0z" fill="#3a4e93"/>
<path d="M493.0 501.0L496.2 500.8L495.5 503.0L494.5 504.2L493.5 502.8z" fill="#3a4e93"/>
<path d="M530.5 494.5L531.5 495.5L534.5 496.0L533.0 497.5L532.0 499.5L530.5 500.0L531.2 497.5z" fill="#3a4e93"/>
<path d="M528.0 501.0L529.5 501.5L528.0 504.5L526.0 507.0L523.5 509.5L521.0 509.0L523.0 506.5L525.5 504.0z" fill="#3a4e93"/>
<path d="M299.0 395.0L304.5 393.5L310.0 392.5L315.5 392.0L317.5 391.5L319.5 392.5L318.5 396.0L320.0 398.5L324.0 399.5L328.0 401.0L331.0 402.5L334.0 400.5L337.5 400.0L339.0 401.0L344.0 400.5L348.0 401.0L350.0 401.5L350.8 404.5L349.5 404.0L350.5 407.0L352.5 411.5L354.5 416.0L357.0 421.0L360.0 425.0L362.5 427.5L366.0 428.5L370.0 428.0L371.0 429.0L370.5 429.5L369.0 432.0L366.0 435.0L362.0 438.5L360.0 441.0L359.0 444.5L357.5 447.5L356.5 450.5L357.0 454.0L358.0 457.5L357.5 461.0L356.0 464.5L352.0 467.0L350.0 469.0L351.5 471.5L351.0 474.0L349.0 476.0L347.5 479.5L346.0 482.5L343.5 485.0L340.0 487.0L336.0 488.0L332.0 489.0L330.5 488.5L330.0 485.0L328.5 481.5L327.0 478.0L325.5 474.0L324.0 470.0L322.5 466.0L321.5 462.0L322.0 458.0L323.0 454.0L322.5 450.0L320.0 447.0L318.5 444.5L318.0 441.5L318.5 438.5L316.5 436.0L313.0 435.0L310.0 434.5L307.0 435.0L303.0 435.5L299.0 435.8L296.0 436.0L293.0 434.0L290.0 431.0L287.5 428.0L285.5 425.0L284.5 422.0L285.0 418.0L285.5 414.0L287.5 410.0L290.0 407.0L293.0 404.5L294.0 401.0L296.0 398.0z" fill="#8a8a8a" stroke="#f2f2f4" stroke-width=".6"/>
<path d="M304.5 393.5L310.0 392.5L315.5 392.0L317.5 393.5L318.0 398.0L319.0 403.5L320.0 409.5L320.0 411.5L312.0 417.0L308.0 414.5L301.5 409.0L296.0 405.5L296.0 403.5L300.0 402.5L303.5 400.0L304.0 397.0z" fill="#3a4e93" stroke="#f2f2f4" stroke-width=".6"/>
<path d="M299.0 395.0L304.5 393.5L304.0 397.0L303.5 400.0L300.0 402.5L296.0 403.5L293.0 404.5L294.0 401.0L296.0 398.0z" fill="#3a4e93" stroke="#f2f2f4" stroke-width=".6"/>
<path d="M339.0 401.0L344.0 400.5L348.0 401.0L350.0 401.5L350.8 404.5L349.5 404.0L350.0 406.0L351.5 409.5L352.0 412.5L339.0 412.8z" fill="#3a4e93" stroke="#f2f2f4" stroke-width=".6"/>
<path d="M302.8 429.0L306.0 429.0L306.2 435.0L303.2 435.5z" fill="#3a4e93" stroke="#f2f2f4" stroke-width=".6"/>
<path d="M328.5 481.5L330.5 479.5L333.0 478.5L334.5 477.0L337.0 476.5L340.0 474.5L342.5 473.0L345.0 472.8L346.2 475.0L347.0 478.0L347.5 479.5L346.0 482.5L343.5 485.0L340.0 487.0L336.0 488.0L332.0 489.0L330.5 488.5L330.0 485.0z" fill="#3a4e93" stroke="#f2f2f4" stroke-width=".6"/>
<path d="M369.0 459.5L370.2 461.0L369.5 465.0L368.0 469.0L366.5 473.0L365.0 475.5L363.0 475.0L362.2 472.0L362.8 468.0L364.0 464.5L366.5 462.0z" fill="#8a8a8a" stroke="#f2f2f4" stroke-width=".6"/>
<path d="M351.5 399.5L352.8 399.5L353.0 402.5L351.8 403.0z" fill="#3a4e93"/>
<path d="M209.0 430.0L211.0 428.5L214.5 429.0L217.0 428.0L221.0 428.5L224.5 429.0L227.0 430.0L229.0 433.0L232.0 434.5L235.5 435.5L239.0 437.0L240.5 439.5L242.5 442.0L246.0 444.0L250.0 445.5L254.5 447.0L258.5 449.0L261.0 451.0L260.5 454.5L259.0 458.0L257.0 461.0L255.5 465.0L255.0 468.5L216.0 468.5L214.0 465.5L211.0 462.5L208.0 459.0L205.5 455.5L203.5 452.0L202.5 448.5L203.0 445.0L203.5 442.5L205.0 440.0L206.5 437.0L207.0 434.0L208.0 431.5z" fill="#3a4e93"/>
<path d="M228.0 433.0L232.0 434.5L235.5 435.5L239.0 437.0L240.5 439.5L240.0 441.0L237.0 440.5L234.0 440.0L231.0 440.5L229.0 438.5L228.5 435.5z" fill="#8a8a8a" stroke="#f2f2f4" stroke-width=".6"/>
<path d="M202.5 431.5L205.5 432.2L208.5 430.0L209.2 431.0L205.8 433.4L202.2 432.6z" fill="#3a4e93"/>
<path d="M320.5 344.5L321.8 340.0L322.2 336.0L324.5 331.5L327.0 326.5L330.0 322.5L333.5 319.0L336.5 316.5L339.0 316.0" fill="none" stroke="#f2f2f6" stroke-width=".75"/>
<path d="M339.0 316.0L341.0 320.0L340.0 324.0L338.5 328.5" fill="none" stroke="#f2f2f6" stroke-width=".75"/>
<path d="M339.0 316.0L342.0 314.5L345.0 314.0L346.0 318.0L344.5 322.0L345.5 326.0L347.0 330.0L347.5 335.0L346.5 339.0L344.0 343.5" fill="none" stroke="#f2f2f6" stroke-width=".75"/>
<path d="M341.3 347.5L342.0 350.5L342.8 354.3L345.0 356.1L346.5 358.8L347.6 361.8L349.5 364.0L352.5 366.3L355.5 368.5L357.4 370.0L357.0 373.0L355.1 375.3" fill="none" stroke="#f2f2f6" stroke-width=".75"/>
<path d="M336.8 359.1L340.5 356.1L342.8 354.3" fill="none" stroke="#f2f2f6" stroke-width=".75"/>
<path d="M336.8 359.1L337.5 364.0L342.0 364.8L346.5 364.4L347.6 361.8" fill="none" stroke="#f2f2f6" stroke-width=".75"/>
<path d="M325.1 360.3L324.8 364.0L325.5 367.0L329.3 368.5L333.0 369.3L336.8 368.1L337.5 364.0" fill="none" stroke="#f2f2f6" stroke-width=".75"/>
<path d="M315.0 361.8L314.6 364.8L314.3 367.8L315.0 370.0L315.8 371.9L318.8 372.6L321.8 371.9L322.5 370.0L323.3 367.8L325.5 367.0" fill="none" stroke="#f2f2f6" stroke-width=".75"/>
<path d="M311.3 365.5L313.9 367.8L315.0 370.0" fill="none" stroke="#f2f2f6" stroke-width=".75"/>
<path d="M315.8 371.9L315.0 374.5L315.8 376.8L316.5 378.3" fill="none" stroke="#f2f2f6" stroke-width=".75"/>
<path d="M305.3 380.9L309.0 382.8" fill="none" stroke="#f2f2f6" stroke-width=".75"/>
<path d="M322.5 370.0L325.5 369.6L329.3 368.5" fill="none" stroke="#f2f2f6" stroke-width=".75"/>
<path d="M318.8 372.6L322.5 373.4L327.0 373.0L329.3 371.5L329.3 368.5" fill="none" stroke="#f2f2f6" stroke-width=".75"/>
<path d="M316.5 375.3L318.8 374.5L322.5 374.9L321.0 376.4" fill="none" stroke="#f2f2f6" stroke-width=".75"/>
<path d="M329.3 371.5L330.0 373.8L333.8 373.4L336.8 370.8L336.8 368.1" fill="none" stroke="#f2f2f6" stroke-width=".75"/>
<path d="M327.0 373.0L325.9 375.3L325.5 376.9" fill="none" stroke="#f2f2f6" stroke-width=".75"/>
<path d="M333.8 373.4L334.9 376.8L337.5 379.8L342.0 379.4" fill="none" stroke="#f2f2f6" stroke-width=".75"/>
<path d="M336.8 370.8L340.5 370.0L342.8 373.0L343.5 376.4" fill="none" stroke="#f2f2f6" stroke-width=".75"/>
<path d="M297.8 382.0L297.4 385.0L297.0 388.0L297.0 391.4" fill="none" stroke="#f2f2f6" stroke-width=".75"/>
<path d="M330.8 386.1L333.8 384.6L337.5 384.3L340.9 385.0" fill="none" stroke="#f2f2f6" stroke-width=".75"/>
<path d="M458.5 370.0L460.0 365.0L462.0 362.0L465.5 361.0L468.0 362.5L469.5 366.0L472.0 369.0L475.0 371.5L479.5 371.5L478.0 375.0L476.0 378.5L478.0 380.5" fill="none" stroke="#f2f2f6" stroke-width=".75"/>
<path d="M405.5 394.5L408.0 398.0L410.0 401.0L414.0 403.5L419.0 405.5L423.0 406.0L427.0 404.0L430.0 403.5L432.0 405.5" fill="none" stroke="#f2f2f6" stroke-width=".75"/>
<path d="M434.0 412.5L436.0 414.5L439.0 413.5L442.0 412.5L444.5 413.5" fill="none" stroke="#f2f2f6" stroke-width=".75"/>
<path d="M408.8 403.4L413.0 405.0L417.2 406.6" fill="none" stroke="#f2f2f6" stroke-width=".75"/>
<path d="M420.0 407.8L422.2 407.8L423.0 410.0" fill="none" stroke="#f2f2f6" stroke-width=".75"/>
<path d="M442.0 412.5L440.5 416.5L442.0 419.5L443.5 422.0L444.5 425.0" fill="none" stroke="#f2f2f6" stroke-width=".75"/>
<path d="M434.0 431.2L435.6 431.8" fill="none" stroke="#f2f2f6" stroke-width=".75"/>
<path d="M451.5 439.0L454.5 438.5L457.8 439.5" fill="none" stroke="#f2f2f6" stroke-width=".75"/>
<path d="M487.0 446.0L487.0 452.8" fill="none" stroke="#f2f2f6" stroke-width=".75"/>
<path d="M374.5 382.0L378.5 378.5L383.0 378.0L388.0 380.0L392.0 383.0L395.0 384.5L398.0 383.0L402.0 382.0L406.0 381.0L409.0 381.0" fill="none" stroke="#f2f2f6" stroke-width=".75"/>
<path d="M378.5 378.5L380.0 383.0L385.0 385.5L390.0 389.0L394.0 390.0" fill="none" stroke="#f2f2f6" stroke-width=".75"/>
<path d="M375.0 390.0L380.0 390.5L385.0 391.0L388.5 393.5L387.5 398.0L389.0 402.0L387.0 405.0L389.0 409.0L388.0 412.0" fill="none" stroke="#f2f2f6" stroke-width=".75"/>
<path d="M389.0 402.0L394.0 401.0L398.0 398.0L400.0 394.0L403.0 392.0" fill="none" stroke="#f2f2f6" stroke-width=".75"/>
<path d="M388.5 393.5L394.0 390.0L399.0 389.5L401.5 389.0" fill="none" stroke="#f2f2f6" stroke-width=".75"/>
<path d="M395.0 384.5L397.0 387.0L401.5 389.0" fill="none" stroke="#f2f2f6" stroke-width=".75"/>
<path d="M398.0 383.0L400.0 385.5L404.5 385.0" fill="none" stroke="#f2f2f6" stroke-width=".75"/>
<path d="M367.0 402.5L365.0 398.0L363.5 394.0L363.0 389.0" fill="none" stroke="#f2f2f6" stroke-width=".75"/>
<path d="M357.5 400.0L359.0 396.0L360.0 390.5" fill="none" stroke="#f2f2f6" stroke-width=".75"/>
<path d="M353.5 398.0L359.0 396.0" fill="none" stroke="#f2f2f6" stroke-width=".75"/>
<path d="M361.0 387.0L365.0 387.2L368.5 388.2" fill="none" stroke="#f2f2f6" stroke-width=".75"/>
<path d="M286.0 409.0L293.0 408.0L296.0 405.5" fill="none" stroke="#f2f2f6" stroke-width=".75"/>
<path d="M301.5 409.0L299.0 409.0L299.0 421.0L291.0 422.0L286.0 421.0" fill="none" stroke="#f2f2f6" stroke-width=".75"/>
<path d="M312.0 417.0L311.5 422.0L308.0 424.0L303.0 425.0L299.0 421.0" fill="none" stroke="#f2f2f6" stroke-width=".75"/>
<path d="M316.0 392.2L316.2 395.0L318.5 398.5" fill="none" stroke="#f2f2f6" stroke-width=".75"/>
<path d="M320.0 411.5L324.5 413.0L336.0 418.5L339.0 417.0L339.0 412.8" fill="none" stroke="#f2f2f6" stroke-width=".75"/>
<path d="M324.5 413.0L326.0 421.0L324.0 425.0L310.0 425.0L308.0 424.0" fill="none" stroke="#f2f2f6" stroke-width=".75"/>
<path d="M336.0 418.5L335.5 425.0L337.0 429.0L334.0 433.0L330.0 434.0" fill="none" stroke="#f2f2f6" stroke-width=".75"/>
<path d="M354.5 416.0L352.0 423.0L350.0 429.0L346.0 434.0" fill="none" stroke="#f2f2f6" stroke-width=".75"/>
<path d="M352.0 423.0L357.0 425.0L360.0 430.0L365.0 431.0L370.5 429.2" fill="none" stroke="#f2f2f6" stroke-width=".75"/>
<path d="M324.0 425.0L325.0 430.0L322.0 435.0" fill="none" stroke="#f2f2f6" stroke-width=".75"/>
<path d="M310.0 425.0L310.0 434.5" fill="none" stroke="#f2f2f6" stroke-width=".75"/>
<path d="M290.0 425.0L295.0 427.0L299.0 425.0L303.0 425.0" fill="none" stroke="#f2f2f6" stroke-width=".75"/>
<path d="M295.0 427.0L296.0 435.0" fill="none" stroke="#f2f2f6" stroke-width=".75"/>
<path d="M337.0 429.0L342.0 430.0L346.0 434.0" fill="none" stroke="#f2f2f6" stroke-width=".75"/>
<path d="M323.0 450.0L327.0 449.0L328.0 440.0L336.0 437.0L344.0 438.0L345.0 445.0L344.0 454.0L341.0 458.0L336.0 457.0L335.0 451.0L328.0 451.0L323.0 450.5" fill="none" stroke="#f2f2f6" stroke-width=".75"/>
<path d="M335.0 458.0L334.5 465.0L322.0 464.5" fill="none" stroke="#f2f2f6" stroke-width=".75"/>
<path d="M332.0 465.0L332.5 475.0L330.5 479.5" fill="none" stroke="#f2f2f6" stroke-width=".75"/>
<path d="M334.5 465.0L340.0 467.0L342.5 473.0" fill="none" stroke="#f2f2f6" stroke-width=".75"/>
<path d="M335.0 458.0L344.0 458.0L349.0 461.0L350.0 469.0" fill="none" stroke="#f2f2f6" stroke-width=".75"/>
<path d="M340.0 467.0L345.0 465.0L349.0 461.0" fill="none" stroke="#f2f2f6" stroke-width=".75"/>
<path d="M345.0 445.0L350.0 444.0L357.5 447.5" fill="none" stroke="#f2f2f6" stroke-width=".75"/>
<path d="M349.0 455.0L357.0 454.0" fill="none" stroke="#f2f2f6" stroke-width=".75"/>
<path d="M344.0 454.0L349.0 455.0L350.0 458.0L352.0 463.0L350.0 469.0" fill="none" stroke="#f2f2f6" stroke-width=".75"/>
<path d="M344.0 438.0L350.0 438.0L354.0 435.0L360.0 435.0L366.0 435.0" fill="none" stroke="#f2f2f6" stroke-width=".75"/>
<path d="M350.0 438.0L350.0 444.0" fill="none" stroke="#f2f2f6" stroke-width=".75"/>
<path d="M360.0 441.0L360.0 435.0" fill="none" stroke="#f2f2f6" stroke-width=".75"/>
<path d="M318.5 438.5L324.0 432.0L326.0 427.0" fill="none" stroke="#f2f2f6" stroke-width=".75"/>
<path d="M326.0 435.0L328.0 440.0" fill="none" stroke="#f2f2f6" stroke-width=".75"/>
<path d="M326.0 435.0L332.0 431.0L336.0 437.0" fill="none" stroke="#f2f2f6" stroke-width=".75"/>
<path d="M318.5 444.5L324.0 444.0L327.0 449.0" fill="none" stroke="#f2f2f6" stroke-width=".75"/>
<path d="M336.0 437.0L340.0 431.0L346.0 434.0L350.0 438.0" fill="none" stroke="#f2f2f6" stroke-width=".75"/>
<path d="M213.0 429.0L213.5 432.0L217.0 434.5L219.5 436.0L220.0 439.5L219.5 441.0" fill="none" stroke="#f2f2f6" stroke-width=".75"/>
<path d="M219.5 441.0L223.0 440.0L224.5 437.5L228.0 438.0L229.0 438.5" fill="none" stroke="#f2f2f6" stroke-width=".75"/>
<path d="M203.5 442.5L207.0 441.5L210.0 443.0L213.5 445.0L215.5 446.5" fill="none" stroke="#f2f2f6" stroke-width=".75"/>
<path d="M219.5 441.0L217.0 442.0L215.5 446.5" fill="none" stroke="#f2f2f6" stroke-width=".75"/>
<path d="M202.5 448.5L205.5 447.0L209.0 444.0L210.0 443.0" fill="none" stroke="#f2f2f6" stroke-width=".75"/>
<path d="M215.5 446.5L213.0 449.0L211.5 452.0L212.5 454.5L216.0 456.0L218.5 456.5" fill="none" stroke="#f2f2f6" stroke-width=".75"/>
<path d="M218.5 456.5L218.0 460.0L217.5 464.0L216.5 468.0" fill="none" stroke="#f2f2f6" stroke-width=".75"/>
<path d="M218.5 456.5L221.0 455.0L224.0 458.0L227.0 460.5L229.5 463.0L232.0 466.0L232.5 468.0" fill="none" stroke="#f2f2f6" stroke-width=".75"/>
<path d="M341.0 387.5L344.0 385.5L349.0 384.5L354.0 385.0L359.0 385.0L362.5 386.0L363.0 389.0L360.0 390.5L356.0 390.8L353.5 391.8" fill="none" stroke="#f2f2f6" stroke-width=".75"/>
<path d="M367.0 402.5L366.0 405.0L362.0 402.0L357.5 400.0L353.5 401.5L352.5 403.0" fill="none" stroke="#f2f2f6" stroke-width=".75"/>
<path d="M361.0 419.8L365.0 419.8L370.0 418.8L374.0 417.8L376.5 416.8L377.5 412.0" fill="none" stroke="#f2f2f6" stroke-width=".75"/>
</g></svg>
<div class="a" id="info"></div>
<div class="t" style="transform:scaleX(0.9088);transform-origin:100% 0;left:0px;width:405px;text-align:right;top:564px;font-size:11.300px;color:#fff;letter-spacing:-.1px">ACTAS PROCESADAS: 100.000 %</div>
<div class="t" style="transform:scaleX(0.9400);transform-origin:100% 0;left:0px;width:424px;text-align:right;top:580px;font-size:11.300px;color:#fff;letter-spacing:-.1px">ACTAS CONTABILIZADAS: 100.000 %</div>
<div class="t" style="transform:scaleX(0.9551);transform-origin:100% 0;left:0px;width:461px;text-align:right;top:596px;font-size:11.300px;color:#fff;letter-spacing:-.1px">ACTUALIZADO EL 09/07/2021 A LAS 18:23 h</div>
<!-- map controls -->
<div class="a" style="left:18px;top:237px;width:20px;height:20px;border-radius:50%;background:#fff"></div>
<div class="a" style="left:18px;top:269px;width:20px;height:20px;border-radius:50%;background:#fff"></div>
<div class="a" style="left:18px;top:293px;width:20px;height:20px;border-radius:50%;background:#fbfbfb"></div>
<svg class="a" style="left:0;top:229px" width="60" height="90" viewBox="0 229 60 90" fill="none">
 <path d="M28 242l-5.500 5h1.500v4.500h3v-3h2v3h3v-4.500h1.500z" fill="#111"/>
 <path d="M28.400 274.200v9M23.900 278.700h9" stroke="#444" stroke-width="1.100"/>
 <path d="M23.800 302.800h9.200" stroke="#777" stroke-width="1.200"/>
</svg>
<!-- select + dropdown -->
<div class="a" id="sel"></div>
<div class="t" style="transform:scaleX(0.8676);transform-origin:0 0;left:41px;top:191.600px;font-size:11.500px;color:#222;letter-spacing:-.3px">TODOS</div>
<svg class="a" style="left:140px;top:186px" width="24" height="22" viewBox="140 186 24 22" fill="none">
 <path d="M153 194.800l2.600 2.600 2.600-2.600" stroke="#222" stroke-width="1.500"/>
 <path d="M143 191.500v11l2.600-2.400 1.900 4.100 1.600-.7-1.900-4h3.500z" fill="#fff" stroke="#222" stroke-width=".8"/>
</svg>
<div class="a" id="dd"></div><div class="a" id="ddh"></div>
<div class="t" style="transform:scaleX(0.8676);transform-origin:0 0;left:41px;top:211.600px;font-size:11.500px;color:#fff;letter-spacing:-.3px">TODOS</div>
<div class="t" style="transform:scaleX(0.8126);transform-origin:0 0;left:41px;top:231px;font-size:11.500px;color:#222;letter-spacing:-.3px">PERÚ</div>
<div class="t" style="transform:scaleX(0.8341);transform-origin:0 0;left:41px;top:250.500px;font-size:11.500px;color:#222;letter-spacing:-.3px">EXTRANJERO</div>
<!-- chart -->
<div class="a" id="chart"></div>
<div class="a" id="pline"></div><div class="a" id="ptab"></div>
<div class="t" style="transform:scaleX(0.8751);transform-origin:0 0;left:653px;top:170px;font-size:11px;color:#fff;letter-spacing:-.25px">PRESIDENCIAL</div>
<svg class="a" style="left:642px;top:191px" width="618" height="433" viewBox="642 191 618 433" fill="none">
 <g stroke="#dedede" stroke-width="1" stroke-dasharray="3 3"><path d="M880.500 206v400M971.500 206v400M1062.500 206v400M1153.500 206v400M1245 206v400"/></g>
 <path d="M1192 306h38M1190 506h38" stroke="#e4e4e4" stroke-width="1"/>
 <rect x="789" y="266" width="403" height="80" rx="3" fill="#d45c66"/>
 <rect x="789" y="466" width="401" height="80" rx="3" fill="#e8a172"/>
 <path d="M789 206v400" stroke="#555" stroke-width="1.200"/>
 <path d="M783.500 306.500h5.500M783.500 506.500h5.500" stroke="#333" stroke-width=".9"/>
 <!-- photo 1 -->
 <defs><filter id="pf" x="-10%" y="-10%" width="120%" height="120%"><feGaussianBlur stdDeviation=".55"/></filter>
 <radialGradient id="sk1" cx=".45" cy=".45" r=".6"><stop offset="0" stop-color="#f3cdb8"/><stop offset="1" stop-color="#d79f86"/></radialGradient>
 <radialGradient id="sk2" cx=".45" cy=".45" r=".6"><stop offset="0" stop-color="#f2c7a8"/><stop offset="1" stop-color="#d49a78"/></radialGradient></defs>
 <rect x="1176" y="279" width="54" height="54" fill="#fff"/>
 <g filter="url(#pf)">
 <path d="M1178 333c3-8 12-11 20-12h8c8 1 18 4 22 12z" fill="#ececee"/>
 <path d="M1191 319l-4 10 4 4h20l6-3 0-12-6-5z" fill="#d3364c"/>
 <path d="M1195 318c3 5 10 6 15 1l-2 14h-10z" fill="#e3ad95"/>
 <ellipse cx="1200.500" cy="307" rx="12.500" ry="16" fill="url(#sk1)"/>
 <path d="M1186.500 305c-2-12 2-21 13-23 11-1 18 6 17 16 0 4-1 7-2 10-1-7-3-12-6-14-6 2-13 2-19 1-2 3-2 6-3 10z" fill="#27272d"/>
 <path d="M1193 314c4 3 10 3 13-1-2 5-10 6-13 1z" fill="#fff"/>
 <path d="M1192 303.500h5M1203 303h5" stroke="#4a3630" stroke-width="1.200"/>
 </g>
 <!-- photo 2 -->
 <rect x="1174" y="479" width="54" height="54" fill="#fff"/>
 <g filter="url(#pf)">
 <path d="M1185 523c-3-22 2-40 15-40.500 12 0 19 12 19 28 0 8 1 16 3 22.500h-14l-16-4z" fill="#1f1a1a"/>
 <path d="M1176 533c3-7 10-10 18-12l6 6 9-7c8 2 16 5 19 13z" fill="#ebe9e4"/>
 <path d="M1192 519c3 4 9 4 13 0l-2 14h-9z" fill="#dfa888"/>
 <ellipse cx="1196.500" cy="505.500" rx="10.500" ry="14.500" fill="url(#sk2)"/>
 <path d="M1186 503c0-10 5-16 13-16 7 0 12 7 12 18-2-6-6-10-10-12-4 4-10 8-15 10z" fill="#1f1a1a"/>
 <path d="M1191 511c3 3 8 3 11 0-1 4-9 5-11 0z" fill="#fff"/>
 <path d="M1189 502.500h4.500M1198 502.500h4.500" stroke="#4a3630" stroke-width="1.100"/>
 <path d="M1210 500c5 8 6 22 8 33h-8c1-12 0-22 0-33z" fill="#1f1a1a"/>
 </g>
</svg>
<div class="t cl" style="transform:scaleX(1.0260);transform-origin:100% 0;left:480px;width:300.500px;text-align:right;top:302.500px">JOSE PEDRO CASTILLO TERRONES</div>
<div class="t cl" style="transform:scaleX(1.0661);transform-origin:100% 0;left:480px;width:300.500px;text-align:right;top:502.500px">KEIKO SOFIA FUJIMORI HIGUCHI</div>
<div class="t cl" style="left:759px;width:60px;text-align:center;top:615.500px">0</div>
<div class="t cl" style="transform:scaleX(1.0100);transform-origin:50% 0;left:850px;width:60px;text-align:center;top:615.500px">2,000,000</div>
<div class="t cl" style="transform:scaleX(1.0100);transform-origin:50% 0;left:941px;width:60px;text-align:center;top:615.500px">4,000,000</div>
<div class="t cl" style="transform:scaleX(1.0100);transform-origin:50% 0;left:1032px;width:60px;text-align:center;top:615.500px">6,000,000</div>
<div class="t cl" style="transform:scaleX(1.0100);transform-origin:50% 0;left:1123.500px;width:60px;text-align:center;top:615.500px">8,000,000</div>
<div class="t cl" style="left:1224px;width:35.500px;overflow:hidden;top:615.500px">10,000,000</div>
<!-- footer -->
<div class="a" id="footer"></div>
<div class="t ft" style="transform:scaleX(0.8503);transform-origin:0 0;left:318px">(01) 417-0630</div>
<div class="t ft" style="left:424.500px">|</div>
<div class="t ft" style="transform:scaleX(0.8515);transform-origin:0 0;left:444.500px">informes@onpe.gob.pe</div>
<div class="t ft" style="left:608px">|</div>
<div class="t ft" style="transform:scaleX(0.8298);transform-origin:0 0;left:631.500px">Jr. Washington 1894, Cercado de Lima</div>
<svg class="a" style="left:900px;top:645px" width="140" height="36" viewBox="900 645 140 36" fill="none">
 <g fill="#2c3a74" opacity=".7"><circle cx="917.500" cy="664" r="11.500"/><circle cx="942.500" cy="664" r="11.500"/><circle cx="967.500" cy="664" r="11.500"/><circle cx="992.500" cy="664" r="11.500"/><circle cx="1018.500" cy="664" r="11.500"/></g>
 <circle cx="916" cy="662" r="11" fill="#3b5493"/><circle cx="916" cy="662" r="10.500" stroke="#cfd6e8" stroke-width="1"/>
 <path d="M917.300 668.500v-6h2l.3-2.200h-2.300v-1.300c0-.7.300-1.100 1.200-1.100h1.200v-2c-.5-.1-1.100-.1-1.700-.1-1.900 0-3 1.100-3 3v1.500h-2v2.200h2v6z" fill="#fff"/>
 <circle cx="941" cy="662" r="11" fill="#36a3dc"/>
 <path d="M947 658.200c-.5.200-1 .4-1.500.4.500-.3 1-.8 1.100-1.400-.5.300-1 .5-1.600.6a2.500 2.500 0 0 0-4.300 2.300c-2.100-.1-4-1.100-5.200-2.700-.7 1.200-.3 2.700.8 3.400-.4 0-.8-.1-1.100-.3 0 1.200.9 2.300 2 2.500-.4.100-.8.100-1.100 0 .3 1 1.300 1.800 2.400 1.800-1.100.9-2.400 1.200-3.800 1.100 1.100.7 2.500 1.100 3.900 1.100 4.700 0 7.400-4 7.200-7.500.5-.4.900-.8 1.200-1.300z" fill="#fff"/>
 <circle cx="966" cy="662" r="11" fill="#c8102e"/><rect x="960" y="657.800" width="12" height="8.500" rx="2.300" fill="#fff"/><path d="M964.800 659.800v4.500l3.800-2.200z" fill="#c8102e"/>
 <circle cx="991" cy="662" r="11" fill="#c13584"/><path d="M980 662a11 11 0 0 0 22 0c-4 8-18 8-22 0z" fill="#e1683c" opacity=".8"/>
 <rect x="985.300" y="656.300" width="11.400" height="11.400" rx="3" stroke="#fff" stroke-width="1.400"/><circle cx="991" cy="662" r="2.700" stroke="#fff" stroke-width="1.400"/><circle cx="994.400" cy="658.700" r=".8" fill="#fff"/>
 <circle cx="1017" cy="662" r="11" fill="#fbfbfd"/><circle cx="1013.800" cy="662" r="2.300" fill="#2a6fdb"/><circle cx="1020.200" cy="662" r="2.300" fill="#f0388f"/>
</svg>
<!-- scrollbar -->
<div class="a" id="sbar"></div><div class="a" id="sthumb"></div>
<svg class="a" style="left:1263px;top:80px" width="17" height="608" viewBox="1263 80 17 608"><path d="M1272 89l3.200-5 3.200 5zM1272 681l3.200 4.500 3.200-4.500z" fill="#a8a8a8"/></svg>
<!-- taskbar -->
<div class="a" id="task"></div>
<div class="a" style="left:480px;top:693px;width:146px;height:22px;border-radius:11px;background:#2f3033"></div>
<div class="a" style="left:774px;top:690px;width:29px;height:29px;border-radius:4px;background:#2c2d30"></div>
<svg class="a" style="left:440px;top:688px" width="840" height="32" viewBox="440 688 840 32" fill="none">
 <defs><linearGradient id="wg" x1="0" y1="0" x2="1" y2="1"><stop offset="0" stop-color="#6fd7ff"/><stop offset="1" stop-color="#1c8fe6"/></linearGradient>
 <linearGradient id="pg" x1="0" y1="0" x2="1" y2="0"><stop offset="0" stop-color="#f2a1c0"/><stop offset=".5" stop-color="#8fd6c0"/><stop offset="1" stop-color="#f3c78d"/></linearGradient></defs>
 <path d="M455 696h7.500v7.500h-7.500zM463.500 696h7.500v7.500h-7.500zM455 704.500h7.500v7.500h-7.500zM463.500 704.500h7.500v7.500h-7.500z" fill="url(#wg)"/>
 <circle cx="491.500" cy="703.500" r="3.600" stroke="#e6e6e6" stroke-width="1.200"/><path d="M494.200 706.200l3 3" stroke="#e6e6e6" stroke-width="1.200"/>
 <ellipse cx="606" cy="704.500" rx="15.500" ry="9" fill="url(#pg)"/><ellipse cx="597" cy="706" rx="5" ry="5" fill="#ee6fa6"/><ellipse cx="611" cy="707" rx="8" ry="3" fill="#4fb7c7"/>
 <rect x="634.500" y="700.500" width="11" height="10" rx="1.500" fill="#8a8a8a"/><rect x="638.500" y="697" width="11.500" height="10.500" rx="1.500" fill="#e9e9e9"/>
 <rect x="667" y="695.500" width="8.500" height="12" rx="2" fill="#9a9a9a"/><rect x="669" y="702" width="4.500" height="4" fill="#b3293a"/><path d="M671.300 707.500v3.500m-2.800 0h5.600" stroke="#bbb" stroke-width="1.200"/>
 <path d="M692.500 697h6l1.500 1.800h7.500v12h-15z" fill="#e9a915"/><path d="M692.500 700.500h15v10.300h-15z" fill="#ffd35c"/><rect x="696.500" y="706" width="7" height="4.800" fill="#3a8ee6"/>
 <rect x="722" y="696" width="15" height="14.500" rx="2.500" fill="#0a1f33"/>
 <circle cx="759" cy="703.500" r="8" fill="#5865f2"/><path d="M754.800 701.500c2.500-1.600 6-1.600 8.400 0 .9 1.500 1.300 3.200 1.200 4.800-1.600 1.300-3 1.200-3 1.200l-.6-1c-1.200.3-2.400.3-3.600 0l-.6 1s-1.400.1-3-1.200c-.1-1.600.3-3.300 1.200-4.800z" fill="#fff"/><circle cx="757.300" cy="704.300" r="1" fill="#5865f2"/><circle cx="760.700" cy="704.300" r="1" fill="#5865f2"/>
 <circle cx="788.500" cy="703" r="8" fill="#fff"/><path d="M788.500 695a8 8 0 0 1 6.930 4h-6.930a4 4 0 0 0-3.460 2l-3.470-6a8 8 0 0 1 6.930-0z" fill="#ea4335"/><path d="M781.570 699a8 8 0 0 0 5 11.800l3.400-5.900a4 4 0 0 1-4.930-1.900z" fill="#34a853"/><path d="M795.430 699a8 8 0 0 1-8.800 11.900l3.400-6a4 4 0 0 0 1.970-5.900z" fill="#fbbc04"/><circle cx="788.500" cy="703" r="3.200" fill="#4285f4" stroke="#fff" stroke-width="1"/>
 <rect x="782.500" y="714.500" width="12" height="2" rx="1" fill="#e0708a"/>
 <circle cx="817.500" cy="704" r="7.500" fill="#222" stroke="#d8d8d8" stroke-width="1.200"/><path d="M817.500 704l3-6M817.500 704l-6.500 1M817.500 704l3.500 5.500" stroke="#d8d8d8" stroke-width="1.100"/><circle cx="823.500" cy="698" r="3.200" fill="#f0142d"/>
 <rect x="816" y="715" width="3.500" height="1.500" rx=".7" fill="#9a9a9a"/>
 <!-- tray -->
 <path d="M1063 706l4-4 4 4" stroke="#e6e6e6" stroke-width="1.400"/>
 <path d="M1084.500 706.500a3 3 0 0 1 .8-5.800 4 4 0 0 1 7.500 1 2.500 2.500 0 0 1-.3 4.800z" fill="#e0e0e0"/><circle cx="1091.500" cy="706.500" r="2.600" fill="#2f8fe6"/>
 <path d="M1104.500 698.500l5-1.800 5 1.800v4.500c0 3-2.300 5.200-5 6.500-2.700-1.300-5-3.500-5-6.500z" fill="#2f9fe0"/><path d="M1109.500 696.700l5 1.800v4.500c0 3-2.300 5.200-5 6.500z" fill="#1c6fbe"/><circle cx="1113" cy="707.500" r="2.600" fill="#3fbf4f"/>
 <rect x="1129.500" y="698.500" width="4" height="7.500" rx="2" stroke="#b0535c" stroke-width="1.100"/><path d="M1127.500 704.500a4 4 0 0 0 8 0M1131.500 708.500v2.500" stroke="#b0535c" stroke-width="1.100"/>
 <rect x="1176.500" y="699.500" width="8" height="7" rx="1" stroke="#e6e6e6" stroke-width="1.100"/><path d="M1178.500 709h4M1185.500 699v5.500" stroke="#e6e6e6" stroke-width="1.100"/><rect x="1184" y="698" width="3" height="3" rx=".6" fill="#1d1d1d" stroke="#e6e6e6" stroke-width=".9"/>
 <path d="M1192.500 702.500h2l2.800-2.500v8l-2.800-2.500h-2z" stroke="#e6e6e6" stroke-width="1"/><path d="M1199 702a3 3 0 0 1 0 4M1200.800 700.300a5.300 5.300 0 0 1 0 7.400" stroke="#e6e6e6" stroke-width="1"/>
 <path d="M1258 708h8l-1.200-2v-3.500a2.800 2.800 0 0 0-5.600 0v3.500zM1261 709.500a1.200 1.200 0 0 0 2.200 0" stroke="#e6e6e6" stroke-width="1"/><path d="M1263 701.500h2.500l-2.500 3h2.500" stroke="#e6e6e6" stroke-width=".8"/>
</svg>
<div class="t" style="transform:scaleX(0.9330);transform-origin:0 0;left:504px;top:699px;font-size:9.300px;color:#e4e4e4">Buscar</div>
<div class="t" style="left:724.500px;top:699.500px;font-size:8px;font-weight:bold;color:#31a8ff;letter-spacing:-.3px">Ps</div>
<div class="t" style="transform:scaleX(0.7626);transform-origin:50% 0;left:1148px;width:17px;text-align:center;top:694.500px;font-size:8.200px;color:#f0f0f0">ESP</div>
<div class="t" style="transform:scaleX(0.9041);transform-origin:50% 0;left:1148px;width:17px;text-align:center;top:706px;font-size:8.200px;color:#f0f0f0">LAA</div>
<div class="t" style="transform:scaleX(0.8909);transform-origin:100% 0;left:1190px;width:62px;text-align:right;top:694.500px;font-size:8.300px;color:#f0f0f0">18:20</div>
<div class="t" style="transform:scaleX(1.0021);transform-origin:100% 0;left:1190px;width:62px;text-align:right;top:706px;font-size:8.300px;color:#f0f0f0">26/4/2026</div>
<!-- webcam overlay -->
<svg class="a" style="left:0;top:468px" width="313" height="252" viewBox="0 468 313 252">
 <defs>
  <filter id="b1" x="-5%" y="-5%" width="110%" height="110%"><feGaussianBlur stdDeviation=".7"/></filter>
  <filter id="b2" x="-10%" y="-10%" width="120%" height="120%"><feGaussianBlur stdDeviation=".8"/></filter>
  <filter id="b3" x="-20%" y="-20%" width="140%" height="140%"><feGaussianBlur stdDeviation="4"/></filter>
  <linearGradient id="wall" gradientUnits="userSpaceOnUse" x1="0" y1="0" x2="190" y2="0"><stop offset="0" stop-color="#767a75"/><stop offset=".25" stop-color="#6d716c"/><stop offset=".6" stop-color="#737773"/><stop offset=".85" stop-color="#7d807d"/><stop offset="1" stop-color="#8c8f8c"/></linearGradient>
  <linearGradient id="ward" gradientUnits="userSpaceOnUse" x1="187" y1="0" x2="269" y2="0"><stop offset="0" stop-color="#2f2f2e"/><stop offset=".5" stop-color="#2a2a29"/><stop offset=".62" stop-color="#302f2e"/><stop offset="1" stop-color="#2b2b2a"/></linearGradient>
  <linearGradient id="curt" gradientUnits="userSpaceOnUse" x1="269" y1="0" x2="313" y2="0"><stop offset="0" stop-color="#3a3a38"/><stop offset=".2" stop-color="#4b4b48"/><stop offset=".5" stop-color="#42423f"/><stop offset=".68" stop-color="#323230"/><stop offset=".85" stop-color="#4e4e4b"/><stop offset="1" stop-color="#565653"/></linearGradient>
  <radialGradient id="skin" gradientUnits="userSpaceOnUse" cx="106" cy="624" r="46" fx="108" fy="622"><stop offset="0" stop-color="#dbcdc5"/><stop offset=".35" stop-color="#c4b2a9"/><stop offset=".7" stop-color="#9c8a82"/><stop offset="1" stop-color="#7e6f69"/></radialGradient>
  <linearGradient id="hood" gradientUnits="userSpaceOnUse" x1="90" y1="0" x2="215" y2="0"><stop offset="0" stop-color="#181919"/><stop offset=".35" stop-color="#272a29"/><stop offset=".7" stop-color="#3e4241"/><stop offset="1" stop-color="#363a39"/></linearGradient>
  <clipPath id="cc"><rect x="0" y="468" width="313" height="252"/></clipPath>
 </defs>
 <g clip-path="url(#cc)">
 <rect x="0" y="468" width="313" height="252" fill="url(#wall)"/>
 <rect x="0" y="468" width="195" height="13" fill="#676a66"/>
 <rect x="0" y="480.500" width="190" height="1.500" fill="#7a7d79"/>
 <g filter="url(#b1)">
  <rect x="10.500" y="523" width="23" height="30" fill="#646763"/>
  <rect x="19" y="570" width="7" height="11" fill="#8b8e8a"/>
  <rect x="52" y="502.500" width="101" height="65.500" fill="#1d1e1d"/>
  <!-- wardrobe -->
  <path d="M193 468h80v252h-86.500V484z" fill="url(#ward)"/>
  <path d="M215 468v160" stroke="#232322" stroke-width="1"/><path d="M237.800 468v172" stroke="#4c4c4a" stroke-width=".8"/>
  <path d="M187 628l28 4 22 6 32 12" stroke="#1c1c1b" stroke-width="1.500" fill="none"/>
  <path d="M193.500 605v16M196.500 605v16M231.500 604v20M238.500 604v20" stroke="#8e8e8b" stroke-width="1"/>
  <path d="M192 634l7 1.500M229 655l13 3M229 690l13 5" stroke="#6e6e6b" stroke-width="1"/>
  <!-- curtain -->
  <rect x="269" y="468" width="44" height="252" fill="url(#curt)"/>
  <!-- chair -->
  <path d="M26.500 640c-1-22 2-40 14-41h12l6 34z" fill="#303131"/>
  <path d="M131 600h14c10 1 13 14 12 30l-26-8z" fill="#585b5a" stroke="#1e1e1e" stroke-width="1"/>
 </g>
 <g filter="url(#b2)">
  <!-- hoodie -->
  <path d="M0 657c10-8 20-16 27-23 8-6 14-10 20-14 4-4 8-10 12-14l74 12c10 3 16 6 24 9 8 4 14 8 21 13 8 6 14 11 19 17 6 8 10 16 13 26 2 8 4 16 5 37H0z" fill="#161717"/>
  <path d="M120 640c4-10 8-16 13-22 10 3 16 6 24 9 8 4 14 8 21 13 8 6 14 11 19 17 6 8 10 16 13 26 2 8 4 16 5 37h-70c-4-30-14-56-25-80z" fill="url(#hood)"/>
  <!-- neck shirt -->
  <path d="M76 652l46 0-8 32-26 2z" fill="#2c2e2f"/>
 </g>
 <g filter="url(#b1)">
  <!-- face -->
  <path d="M56 584c0-10 74-12 78-2 3 14 2 34-3 50-6 17-18 29-34 30-17 0-31-12-36-30-4-16-6-32-5-48z" fill="url(#skin)"/>
  <path d="M131 592c5-3 7 6 3 17l-4 6z" fill="#b9a79e"/>
  <path d="M57 586c20-8 50-8 77-2l-2 11c-24-6-50-6-73 2z" fill="#75665f" opacity=".75"/>
  <path d="M63 588c6-3 14-3 19 0M95 587c6-3 14-3 20-1" stroke="#3a302c" stroke-width="2" fill="none" opacity=".8"/>
  <path d="M77 634c6-3 14-3 21 0 1 3-3 7-10 7s-11-4-11-7z" fill="#b58487"/>
  <path d="M78 636h19" stroke="#6d4e50" stroke-width="1"/>
  <path d="M86 600c1 8-1 16-4 22 4 3 10 3 14 0" fill="none" stroke="#8f7d75" stroke-width="1.500"/>
  <path d="M62 636c10 20 42 28 64-8-4 18-16 31-31 32-15 0-27-9-33-24z" fill="#7d6e68" opacity=".6"/>
  <path d="M68 626c8 4 28 5 40 0" stroke="#8a7a73" stroke-width="2" fill="none" opacity=".5"/>
  <!-- hood sides over jaw -->
  <path d="M40 620l15-10c-2 8-1 18 4 30 5 10 12 18 20 24l-8 18H38z" fill="#171818"/>
  <path d="M135 604c0 12-3 26-9 36-6 10-13 18-21 24l20 18 28-40z" fill="#1d1f1f"/>
  <!-- hair -->
  <path d="M54.300 587c-2-7-2-14-1.300-21 .5-5 1-9 2.600-13.200 1.600-6 3.600-11 6.600-15.800 2.600-4 6-7.600 10.600-10.600 4-2.400 8.200-4 13.200-5.400 1.400-2 3-3.200 5.300-3.800 3.600-.8 7.600-.2 10.500 1.300 1.600 1.400 3.400 3.200 5.200 5.300 5 1 9.600 2.800 13.300 5.200 4.400 2.800 8 6.400 10.600 10.600 3 4 5.200 8.400 6.600 13.200 1 4 1.500 8.600 1.300 13.200-.2 4.600-1.200 9-2.600 13.200l-4 7.800c.6-4 0-7.600-1.400-10.400-2 -2.400-4.800-4-7.900-5.300-2.600 2.400-5.200 4.200-7.900 5.300-3.600-1.600-7-3-10.600-4-3.400 2.400-7 4.200-10.600 5.300-3.400-2-7-3.800-10.600-5.300-3.400 1.800-7 3.200-10.500 4-2.800-1-5.400-2-7.900-2.700-1.600 1.600-3 3.400-4 5.300-.6 2.600-1 5.200-1.300 7.800z" fill="#222224"/>
  <g stroke="#5c5c5e" stroke-width="1.800" fill="none" opacity=".8"><path d="M84 534c8-7 22-8 30-2M70 548c10-10 30-12 46-4M128 548c4 8 6 18 4 28M64 560c8-6 18-8 28-6M100 556c8-2 16 0 22 6M76 570c6-4 12-5 18-4M104 568c6-1 12 1 16 5M59 576c2-6 5-10 9-13M62 544c4-6 9-11 15-14M118 536c6 4 10 9 13 15"/></g>
  <path d="M98 520c3-3 8-3 11 0l-2 4h-7z" fill="#2a2a2c"/><circle cx="108.500" cy="521.500" r="1.500" fill="#9a9a9a"/>
  <!-- glasses -->
  <g fill="none" stroke="#1d1b1b" stroke-width="3"><rect x="51" y="590" width="31" height="23" rx="4"/><rect x="91" y="590" width="31" height="24" rx="4"/><path d="M82 597h9M122 595l12-8M51 595l-5-8 6-12"/></g>
  <path d="M56 592h22v7H56zM96 592h22v7H96z" fill="#5f7fd0" opacity=".5"/>
  <!-- mic -->
  <path d="M0 692c20-4 36-5 54-5h52c5 6 5 26 0 33H0z" fill="#121214"/>
  <rect x="54" y="690" width="44" height="30" fill="#dc4a54"/>
  <rect x="54" y="706" width="44" height="4" fill="#7a1c24"/>
  <path d="M20 676c6-3 16-3 22 0l3 44H18z" fill="#141416"/>
  <g stroke="#c62a36" stroke-width="1.400" fill="none"><path d="M12 704l9-24M21 680l16-4M37 676l10 22M24 690l10 14M40 690l-12 14"/></g>
 </g>
 </g>
</svg>
<div class="t" style="left:110px;top:708px;font-size:15px;font-weight:bold;color:#e9e9e9;letter-spacing:-.5px;transform:scaleX(-1);transform-origin:18px 0;height:12px;overflow:hidden">NEV</div>
</body>
</html>
